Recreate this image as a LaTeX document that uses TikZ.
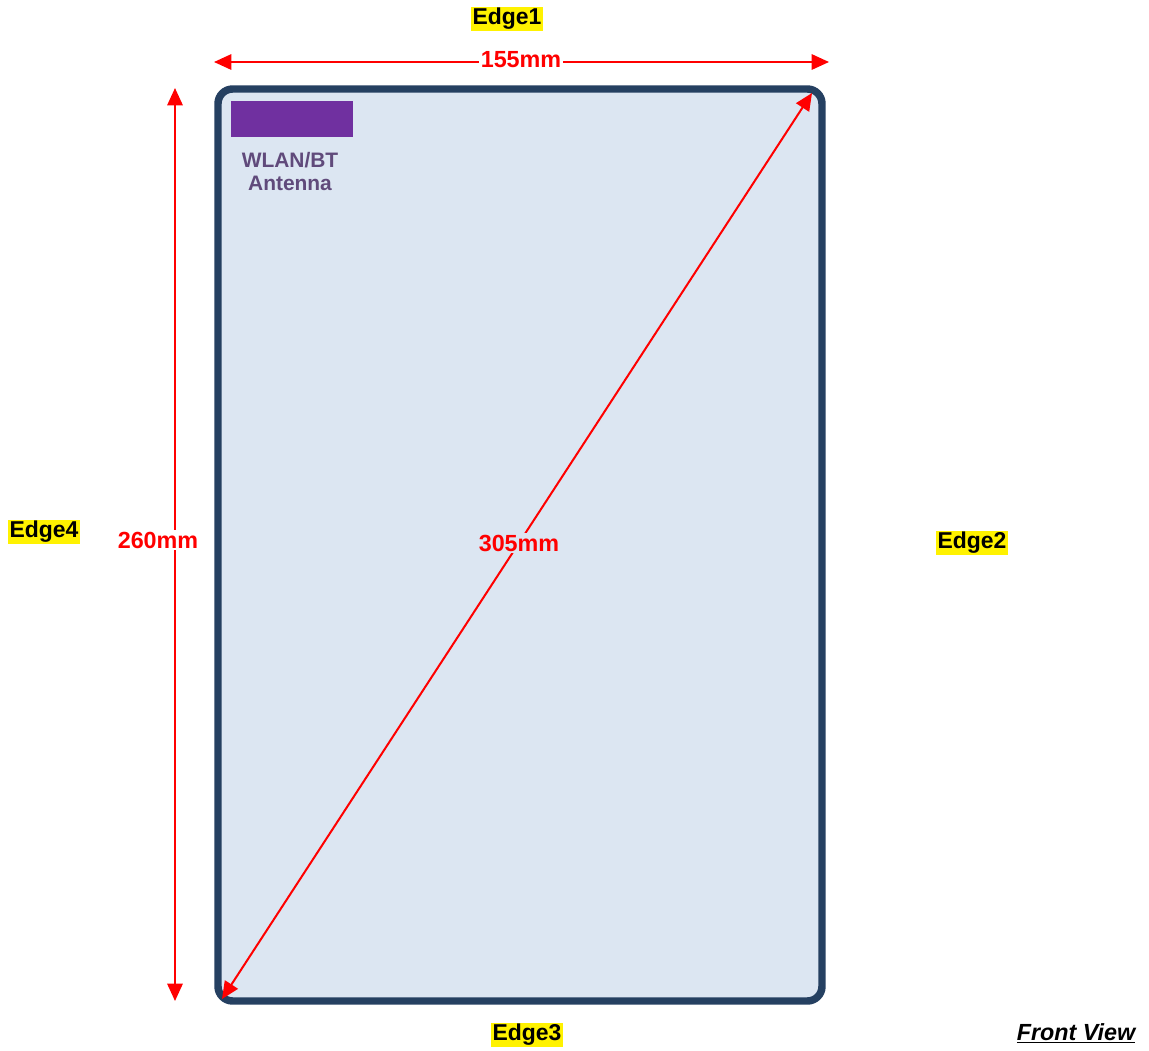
\documentclass[tikz,border=0pt]{standalone}
\usepackage{fontspec}
\setmainfont{Liberation Sans}
\usetikzlibrary{arrows.meta}

\definecolor{FvFill}{HTML}{DCE6F2}
\definecolor{FvFrame}{HTML}{254061}
\definecolor{FvAnt}{HTML}{7030A0}
\definecolor{FvAntText}{HTML}{604A7B}

\tikzset{
  edgename/.style={fill=yellow, text=black, inner sep=1.2pt,
    font=\fontsize{17.2}{20}\selectfont\bfseries},
  dimline/.style={draw=red, line width=1.5pt,
    {Triangle[length=13pt,width=11.5pt]}-{Triangle[length=13pt,width=11.5pt]}},
  dimtext/.style={text=red, inner sep=1.5pt,
    font=\fontsize{17.5}{20}\selectfont\bfseries},
}

\begin{document}
\begin{tikzpicture}[x=0.75pt,y=-0.75pt]
    \useasboundingbox[fill=white] (0,0) rectangle (1149,1050);

    % tablet outline
    \draw[FvFrame, fill=FvFill, line width=5.6pt, rounded corners=11pt]
      (218,89) rectangle (822,1001);

    % antenna
    \node (FvAnt) [fill=FvAnt, minimum width=91.5pt, minimum height=27pt, inner sep=0pt]
      at (292,119) {};
    \node (FvAntLbl) [text=FvAntText, align=center, inner sep=0pt,
      font=\fontsize{15.7}{17.25}\selectfont\bfseries] at (290,172) {WLAN/BT\\Antenna};

    % dimension end points
    \coordinate (FvWidL) at (214,62);
    \coordinate (FvWidR) at (829,62);
    \coordinate (FvHgtT) at (175,88);
    \coordinate (FvHgtB) at (175,1001);
    \coordinate (FvDiaB) at (222,999);
    \coordinate (FvDiaT) at (812,93);

    \draw[dimline] (FvWidL) to (FvWidR);
    \draw[dimline] (FvHgtT) to (FvHgtB);
    \draw[dimline] (FvDiaB) to (FvDiaT);

    \node (FvWid) [dimtext, fill=white] at (521,60) {155mm};
    \node (FvHgt) [dimtext, fill=white] at (158,540) {260mm};
    \node (FvDia) [dimtext, fill=FvFill] at (519,543) {305mm};

    % edge names
    \node (FvEdgeA) [edgename] at (507,19) {Edge1};
    \node (FvEdgeB) [edgename] at (972,543) {Edge2};
    \node (FvEdgeC) [edgename] at (527,1035) {Edge3};
    \node (FvEdgeD) [edgename] at (44,532) {Edge4};

    \node (FvView) [inner sep=0pt, font=\fontsize{17.5}{20}\selectfont\bfseries\itshape]
      at (1076,1033) {\underline{Front View}};
  \end{tikzpicture}
\end{document}
